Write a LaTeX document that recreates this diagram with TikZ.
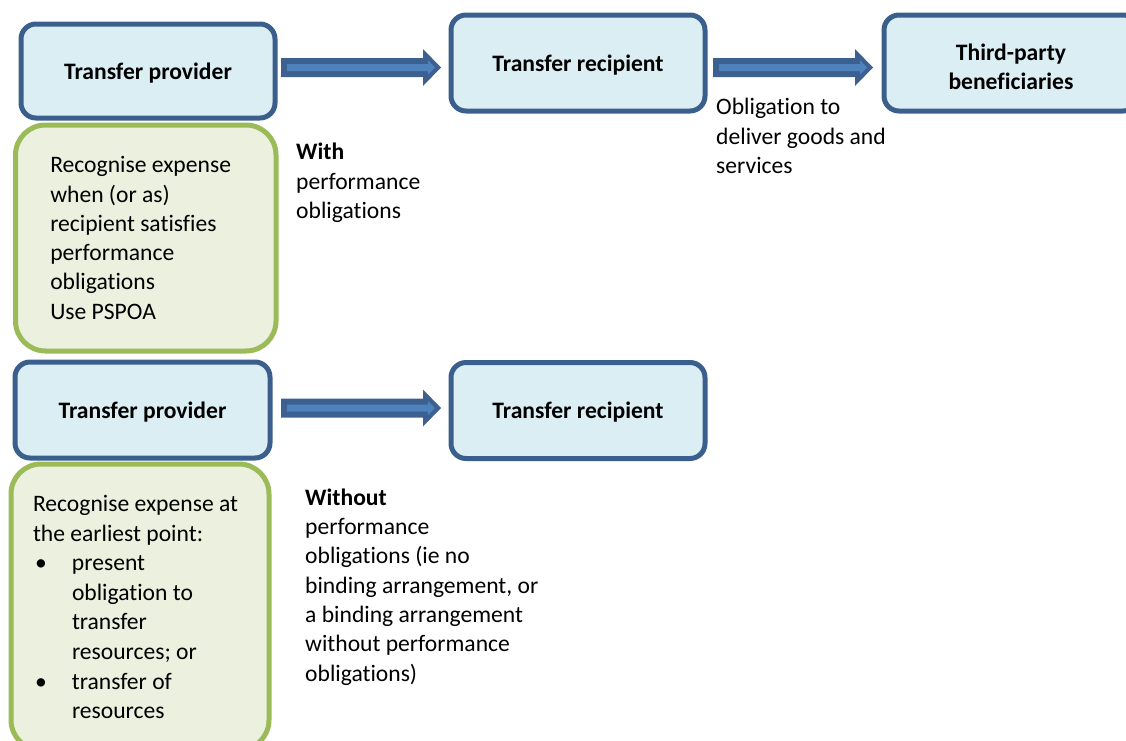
\documentclass[tikz,border=0pt]{standalone}
\usepackage{fontspec}
\setmainfont{Carlito}[Ligatures=NoCommon]
\usetikzlibrary{calc}

\definecolor{boxline}{HTML}{3B5F8D}
\definecolor{boxfill}{HTML}{DAEEF3}
\definecolor{noteline}{HTML}{9BBB59}
\definecolor{notefill}{HTML}{EBF1DE}
\definecolor{arrowdark}{HTML}{3C6191}
\definecolor{arrowlight}{HTML}{4F81BD}

\newcommand\diagfont{\fontsize{23.6pt}{29.3pt}\selectfont}
% undo the wider word spaces that ragged-right alignment sets
\newcommand\naturalspaces{\spaceskip=0pt\xspaceskip=0pt\relax}

\tikzset{
  party/.style={draw=boxline, fill=boxfill, line width=5pt, rounded corners=15pt,
    minimum width=254pt, minimum height=96pt, inner sep=0pt,
    font={\diagfont\bfseries}, align=center},
  oneline/.style={text height=16pt, text depth=0pt},
  note/.style={draw=noteline, fill=notefill, line width=5pt, rounded corners=30pt,
    inner sep=0pt, align=left, font=\diagfont},
  caption/.style={inner sep=0pt, anchor=base west, align=left, font=\diagfont},
  % block arrow outline and its lighter core, drawn between two coordinates
  arrowbody/.style={to path={
    ($(\tikztostart)+(0,-9.5)$) -- ($(\tikztotarget)+(-18,-9.5)$)
    -- ($(\tikztotarget)+(-18,-18.5)$) -- (\tikztotarget)
    -- ($(\tikztotarget)+(-18,18.5)$) -- ($(\tikztotarget)+(-18,9.5)$)
    -- ($(\tikztostart)+(0,9.5)$) -- cycle}},
  arrowcore/.style={to path={
    ($(\tikztostart)+(6,-3.5)$) -- ($(\tikztotarget)+(-13,-3.5)$)
    -- ($(\tikztotarget)+(-13,-7)$) -- ($(\tikztotarget)+(-6,0)$)
    -- ($(\tikztotarget)+(-13,7)$) -- ($(\tikztotarget)+(-13,3.5)$)
    -- ($(\tikztostart)+(6,3.5)$) -- cycle}},
}

\begin{document}
\begin{tikzpicture}[x=1pt, y=-1pt]
  \useasboundingbox (0,0) rectangle (1126,740);
  \clip (0,0) rectangle (1126,740);

  % upper row: transfer with performance obligations
  \node[party, oneline, minimum height=94pt] (provA) at (148,71) {Transfer provider};
  \node[party, oneline] (recipA) at (578,63) {Transfer recipient};
  \node[party, text height=53pt, text depth=0pt] (benef) at (1011,63) {Third-party\\beneficiaries};

  \node[note, minimum width=260.5pt, minimum height=226pt, text width=191pt]
    (noteA) at (145.75,238)
    {\naturalspaces Recognise expense\\when (or as)\\recipient satisfies\\performance\\obligations\\Use PSPOA};

  % captions are anchored at the baseline of their last line
  \node[caption] (withtxt) at (296,218.5) {\textbf{With}\\performance\\obligations};
  \node[caption] (delivtxt) at (716,173.5) {Obligation to\\deliver goods and\\services};

  % lower row: transfer without performance obligations
  \node[party, oneline, minimum width=255pt] (provB) at (142.5,410) {Transfer provider};
  \node[party, oneline] (recipB) at (578,410.5) {Transfer recipient};

  \node[note, minimum width=258pt, minimum height=286pt, text width=214pt,
        font={\fontsize{23.6pt}{29.6pt}\selectfont}]
    (noteB) at (140,607)
    {\naturalspaces Recognise expense at\\the earliest point:\\
     \makebox[39pt][l]{\hspace{2pt}\textbullet}present\\
     \hspace*{39pt}obligation to\\
     \hspace*{39pt}transfer\\
     \hspace*{39pt}resources; or\\
     \makebox[39pt][l]{\hspace{2pt}\textbullet}transfer of\\
     \hspace*{39pt}resources};

  \node[caption] (withouttxt) at (305,681)
    {\textbf{Without}\\performance\\obligations (ie no\\binding arrangement, or\\a binding arrangement\\without performance\\obligations)};

  % arrow end points
  \coordinate (a1s) at ($(provA.east)+(3.5,-3.5)$);
  \coordinate (a1e) at ($(a1s -| recipA.west)+(-7.5,0)$);
  \coordinate (a2s) at ($(recipA.east)+(5.5,4.5)$);
  \coordinate (a2e) at ($(a2s -| benef.west)+(-8.5,0)$);
  \coordinate (a3s) at ($(provB.east)+(8.5,-2)$);
  \coordinate (a3e) at ($(a3s -| recipB.west)+(-7.5,0)$);

  \foreach \s/\e in {a1s/a1e, a2s/a2e, a3s/a3e}{
    \fill[arrowdark] (\s) to[arrowbody] (\e);
    \fill[arrowlight] (\s) to[arrowcore] (\e);
  }
\end{tikzpicture}
\end{document}
